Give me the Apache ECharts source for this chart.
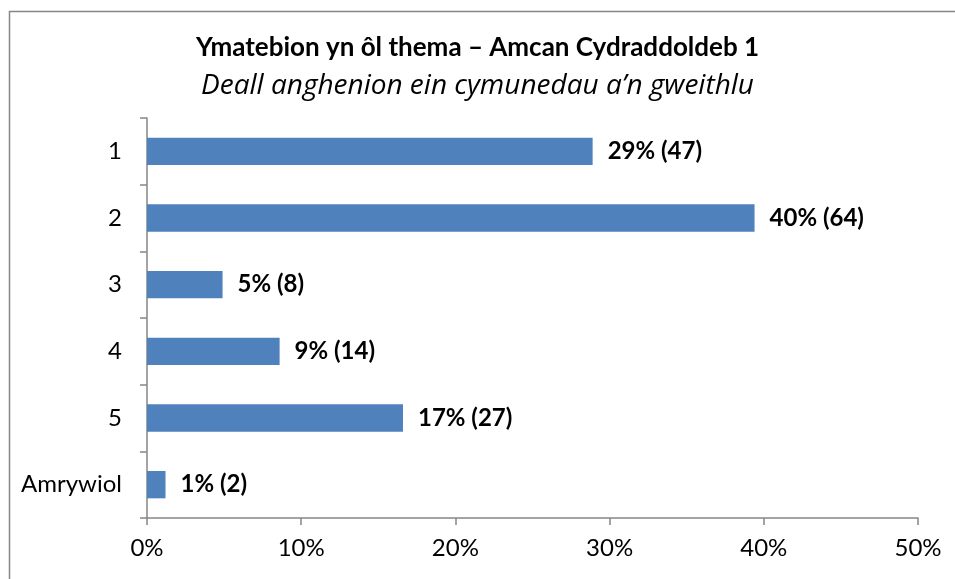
<!DOCTYPE html>
<html>
<head>
<meta charset="utf-8">
<script src="https://cdn.jsdelivr.net/npm/echarts@6/dist/echarts.min.js"></script>
<style>
  html, body { margin: 0; padding: 0; background: #fff; }
  #chart { width: 955px; height: 579px; }
</style>
</head>
<body>
<div id="chart"></div>
<script>
var titleText = "Ymatebion yn ôl thema – Amcan Cydraddoldeb 1";
var subText = "Deall anghenion ein cymunedau a’n gweithlu";
var categories = ["1", "2", "3", "4", "5", "Amrywiol"];
// share of responses (%)
var shares = [28.9, 39.4, 4.9, 8.6, 16.6, 1.2];
var shareLabels = ["29%", "40%", "5%", "9%", "17%", "1%"];
var counts = [47, 64, 8, 14, 27, 2];
var xTicks = [0, 10, 20, 30, 40, 50];

var font = "Lato, 'Open Sans', sans-serif";
var axisGray = "#868686";

var option = {
    backgroundColor: "#fff",
    animation: false,
    title: [
        {
            text: titleText,
            left: "center",
            top: 30,
            textStyle: { fontFamily: font, fontWeight: "bold", fontSize: 26, color: "#000" }
        },
        {
            text: subText,
            left: "center",
            top: 67,
            textStyle: { fontFamily: "'Open Sans', sans-serif", fontStyle: "italic", fontWeight: "normal", fontSize: 28, color: "#000" }
        }
    ],
    graphic: [
        {
            type: "rect",
            left: 7, top: 9,
            shape: { width: 1000, height: 700 },
            style: { fill: null, stroke: axisGray, lineWidth: 1.5 },
            silent: true
        }
    ],
    grid: { left: 147, right: 37, top: 118, bottom: 61, containLabel: false },
    xAxis: {
        type: "value",
        min: xTicks[0],
        max: xTicks[xTicks.length - 1],
        interval: 10,
        splitLine: { show: false },
        axisLine: { show: true, lineStyle: { color: axisGray, width: 1.5 } },
        axisTick: { show: true, length: 7, lineStyle: { color: axisGray, width: 1.5 } },
        axisLabel: {
            fontFamily: font, fontSize: 24, color: "#000", margin: 18,
            formatter: function (v) { return v + "%"; }
        }
    },
    yAxis: {
        type: "category",
        inverse: true,
        data: categories,
        axisLine: { show: true, lineStyle: { color: axisGray, width: 1.5 } },
        axisTick: { show: true, length: 7, lineStyle: { color: axisGray, width: 1.5 } },
        axisLabel: { fontFamily: font, fontSize: 24, color: "#000", margin: 25 }
    },
    series: [
        {
            type: "bar",
            data: shares,
            barCategoryGap: "59%",
            itemStyle: { color: "#4F81BD" },
            label: {
                show: true,
                position: "right",
                distance: 15,
                fontFamily: font,
                fontWeight: "bold",
                fontSize: 24,
                color: "#000",
                formatter: function (p) {
                    return shareLabels[p.dataIndex] + " (" + counts[p.dataIndex] + ")";
                }
            }
        }
    ]
};

echarts.init(document.getElementById("chart")).setOption(option);
</script>
</body>
</html>
